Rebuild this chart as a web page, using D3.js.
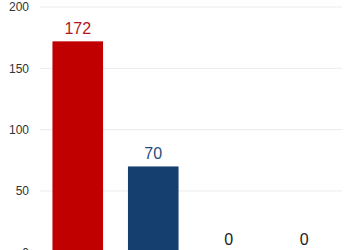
<!DOCTYPE html>
<html>
<head>
<meta charset="utf-8">
<script src="https://cdn.jsdelivr.net/npm/d3@7"></script>
<style>
  html, body { margin: 0; padding: 0; background: #fff; }
  svg { display: block; }
</style>
</head>
<body>
<svg id="chart" width="350" height="250"></svg>
<script>
const categories = ["A", "B", "C", "D"];
const values = [172, 70, 0, 0];
const barColors = ["#c00000", "#143f6e", "#c00000", "#143f6e"];
const labelColors = ["#b3161b", "#1f4e82", "#222222", "#222222"];
const yTicks = [0, 50, 100, 150, 200];

const svg = d3.select("#chart");
const x = d3.scaleBand().domain(categories).range([40, 342]).paddingInner(0.33).paddingOuter(0.165);
const y = d3.scaleLinear().domain([0, 200]).range([252.3, 7]);

// gridlines
svg.append("g")
  .selectAll("line")
  .data(yTicks)
  .join("line")
  .attr("x1", 40).attr("x2", 342)
  .attr("y1", d => y(d)).attr("y2", d => y(d))
  .attr("stroke", "#ebebeb").attr("stroke-width", 1);

// y axis labels
const yAxis = d3.axisLeft(y).tickValues(yTicks).tickSize(0).tickPadding(0);
const gy = svg.append("g").attr("transform", "translate(29,0)").call(yAxis);
gy.select(".domain").remove();
gy.selectAll("text")
  .attr("font-family", "Liberation Sans, Arial, sans-serif")
  .attr("font-size", 12)
  .attr("fill", "#333");

// bars
svg.append("g")
  .selectAll("rect")
  .data(values)
  .join("rect")
  .attr("x", (d, i) => x(categories[i]))
  .attr("width", x.bandwidth())
  .attr("y", d => y(d))
  .attr("height", d => y(0) - y(d))
  .attr("fill", (d, i) => barColors[i]);

// value labels
svg.append("g")
  .selectAll("text")
  .data(values)
  .join("text")
  .attr("x", (d, i) => x(categories[i]) + x.bandwidth() / 2)
  .attr("y", d => y(d) - 7)
  .attr("text-anchor", "middle")
  .attr("font-family", "Liberation Sans, Arial, sans-serif")
  .attr("font-size", 16)
  .attr("fill", (d, i) => labelColors[i])
  .text(d => d);
</script>
</body>
</html>
